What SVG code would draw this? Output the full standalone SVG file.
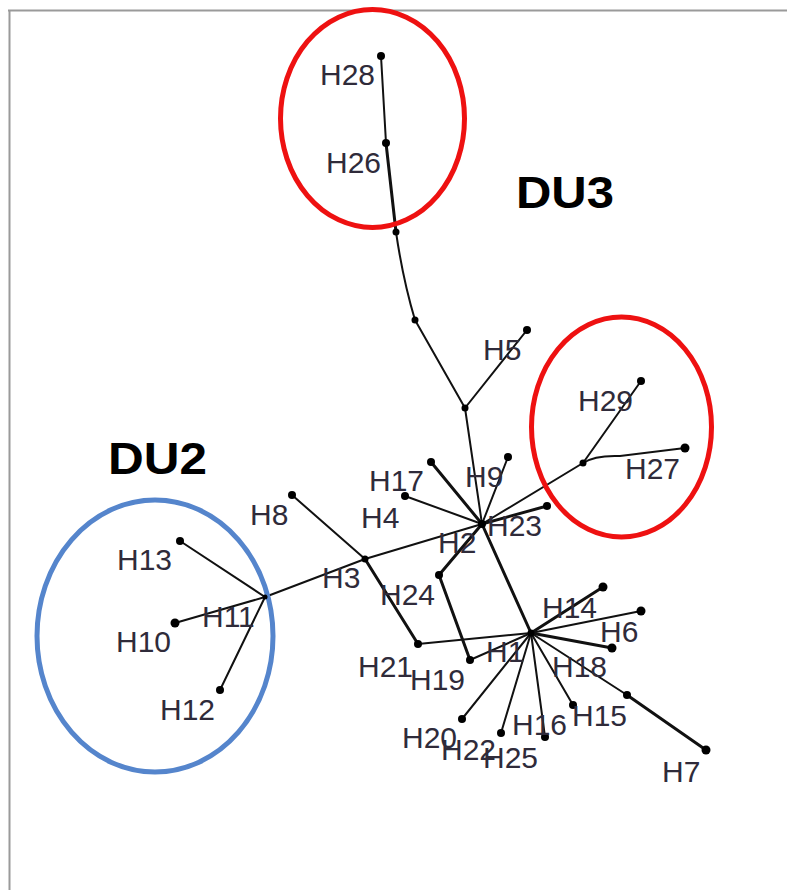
<svg xmlns="http://www.w3.org/2000/svg" width="787" height="890" viewBox="0 0 787 890">
<style>
.lbl{font-family:"Liberation Sans",Arial,sans-serif;font-size:30px;fill:#2f2b3a}
.du{font-family:"Liberation Sans",Arial,sans-serif;font-size:45px;font-weight:bold;fill:#000}
.e{stroke:#111;stroke-width:2;fill:none;stroke-linecap:round}
.t{stroke-width:3}
.d{fill:#000}
.red{fill:none;stroke:#ee1111;stroke-width:5}
.blue{fill:none;stroke:#5585cc;stroke-width:5}
</style>
<rect width="787" height="890" fill="#fff"/>
<path d="M8 10.5H787M9.5 10V890" stroke="#9a9a9a" stroke-width="2" fill="none"/>

<g id="connectors">
<line class="e" x1="381" y1="56" x2="386" y2="143"/>
<line class="e t" x1="386" y1="143" x2="396" y2="232"/>
<path class="e" d="M396 232 Q403 280 415 320"/>
<line class="e" x1="415" y1="320" x2="465" y2="408"/>
<line class="e" x1="465" y1="408" x2="527" y2="330"/>
<line class="e" x1="465" y1="408" x2="482" y2="524"/>
<line class="e t" x1="482" y1="524" x2="431" y2="462"/>
<line class="e" x1="482" y1="524" x2="405" y2="496"/>
<line class="e" x1="482" y1="524" x2="508" y2="457"/>
<line class="e t" x1="482" y1="524" x2="547" y2="506"/>
<line class="e" x1="482" y1="524" x2="583" y2="463"/>
<line class="e" x1="583" y1="463" x2="641" y2="381"/>
<path class="e" d="M583 463 Q595 455 620 456 L685 448"/>
<line class="e" x1="482" y1="524" x2="365" y2="559"/>
<line class="e" x1="365" y1="559" x2="265" y2="597"/>
<line class="e" x1="265" y1="597" x2="180" y2="541"/>
<line class="e" x1="265" y1="597" x2="175" y2="623"/>
<line class="e" x1="265" y1="597" x2="220" y2="690"/>
<line class="e" x1="292" y1="495" x2="365" y2="559"/>
<line class="e t" x1="365" y1="559" x2="418" y2="644"/>
<line class="e" x1="418" y1="644" x2="531" y2="633"/>
<line class="e t" x1="482" y1="524" x2="439" y2="575"/>
<line class="e t" x1="439" y1="575" x2="470" y2="660"/>
<line class="e" x1="470" y1="660" x2="531" y2="633"/>
<line class="e t" x1="482" y1="524" x2="531" y2="633"/>
<line class="e t" x1="531" y1="633" x2="603" y2="587"/>
<line class="e" x1="531" y1="633" x2="641" y2="611"/>
<line class="e t" x1="531" y1="633" x2="612" y2="648"/>
<line class="e" x1="531" y1="633" x2="627" y2="695"/>
<line class="e t" x1="627" y1="695" x2="706" y2="750"/>
<line class="e" x1="531" y1="633" x2="573" y2="705"/>
<line class="e" x1="531" y1="633" x2="545" y2="737"/>
<line class="e" x1="531" y1="633" x2="501" y2="733"/>
<line class="e" x1="531" y1="633" x2="462" y2="719"/>
</g>

<ellipse class="red" cx="372.5" cy="118.5" rx="92" ry="109"/>
<ellipse class="red" cx="621.5" cy="427" rx="90" ry="110"/>
<ellipse class="blue" cx="155" cy="636" rx="118" ry="136"/>

<text class="du" x="516" y="208" textLength="98" lengthAdjust="spacingAndGlyphs">DU3</text>
<text class="du" x="108" y="474" textLength="99" lengthAdjust="spacingAndGlyphs">DU2</text>

<g id="H28"><circle class="d" cx="381" cy="56" r="4"/><text class="lbl" x="320" y="85">H28</text></g>
<g id="H26"><circle class="d" cx="386" cy="143" r="4"/><text class="lbl" x="326" y="173">H26</text></g>
<g id="n_a"><circle class="d" cx="396" cy="232" r="3.5"/></g>
<g id="n_b"><circle class="d" cx="415" cy="320" r="3.5"/></g>
<g id="n_c"><circle class="d" cx="465" cy="408" r="3.5"/></g>
<g id="H5"><circle class="d" cx="527" cy="330" r="4"/><text class="lbl" x="483" y="360">H5</text></g>
<g id="H29"><circle class="d" cx="641" cy="381" r="4"/><text class="lbl" x="578" y="411">H29</text></g>
<g id="n_d"><circle class="d" cx="583" cy="463" r="3.5"/></g>
<g id="H27"><circle class="d" cx="685" cy="448" r="4.5"/><text class="lbl" x="625" y="479">H27</text></g>
<g id="H17"><circle class="d" cx="431" cy="462" r="4"/><text class="lbl" x="369" y="491">H17</text></g>
<g id="H9"><circle class="d" cx="508" cy="457" r="4"/><text class="lbl" x="465" y="487">H9</text></g>
<g id="H4"><circle class="d" cx="405" cy="496" r="4"/><text class="lbl" x="361" y="528">H4</text></g>
<g id="H23"><circle class="d" cx="547" cy="506" r="4"/><text class="lbl" x="487" y="536">H23</text></g>
<g id="H2"><circle class="d" cx="482" cy="524" r="4"/><text class="lbl" x="438" y="553">H2</text></g>
<g id="H8"><circle class="d" cx="292" cy="495" r="4"/><text class="lbl" x="250" y="525">H8</text></g>
<g id="H3"><circle class="d" cx="365" cy="559" r="3.5"/><text class="lbl" x="322" y="588">H3</text></g>
<g id="H24"><circle class="d" cx="439" cy="575" r="4"/><text class="lbl" x="380" y="605">H24</text></g>
<g id="H11"><circle class="d" cx="265" cy="597" r="2.5"/><text class="lbl" x="202" y="627">H11</text></g>
<g id="H13"><circle class="d" cx="180" cy="541" r="4"/><text class="lbl" x="117" y="570">H13</text></g>
<g id="H10"><circle class="d" cx="175" cy="623" r="4.5"/><text class="lbl" x="116" y="652">H10</text></g>
<g id="H12"><circle class="d" cx="220" cy="690" r="4"/><text class="lbl" x="160" y="720">H12</text></g>
<g id="H21"><circle class="d" cx="418" cy="644" r="4"/><text class="lbl" x="358" y="677">H21</text></g>
<g id="H19"><circle class="d" cx="470" cy="660" r="4"/><text class="lbl" x="410" y="690">H19</text></g>
<g id="H1"><circle class="d" cx="531" cy="633" r="3.5"/><text class="lbl" x="486" y="662">H1</text></g>
<g id="H14"><circle class="d" cx="603" cy="587" r="4.5"/><text class="lbl" x="542" y="618">H14</text></g>
<g id="H6"><circle class="d" cx="641" cy="611" r="4.5"/><text class="lbl" x="600" y="642">H6</text></g>
<g id="H18"><circle class="d" cx="612" cy="648" r="4.5"/><text class="lbl" x="552" y="677">H18</text></g>
<g id="n_e"><circle class="d" cx="627" cy="695" r="4"/></g>
<g id="H7"><circle class="d" cx="706" cy="750" r="4.5"/><text class="lbl" x="662" y="782">H7</text></g>
<g id="H15"><circle class="d" cx="573" cy="705" r="4"/><text class="lbl" x="572" y="726">H15</text></g>
<g id="H16"><circle class="d" cx="545" cy="737" r="4"/><text class="lbl" x="512" y="735">H16</text></g>
<g id="H25"><circle class="d" cx="501" cy="733" r="4"/><text class="lbl" x="483" y="768">H25</text></g>
<g id="H22"><text class="lbl" x="441" y="760">H22</text></g>
<g id="H20"><circle class="d" cx="462" cy="719" r="4"/><text class="lbl" x="402" y="748">H20</text></g>
</svg>
